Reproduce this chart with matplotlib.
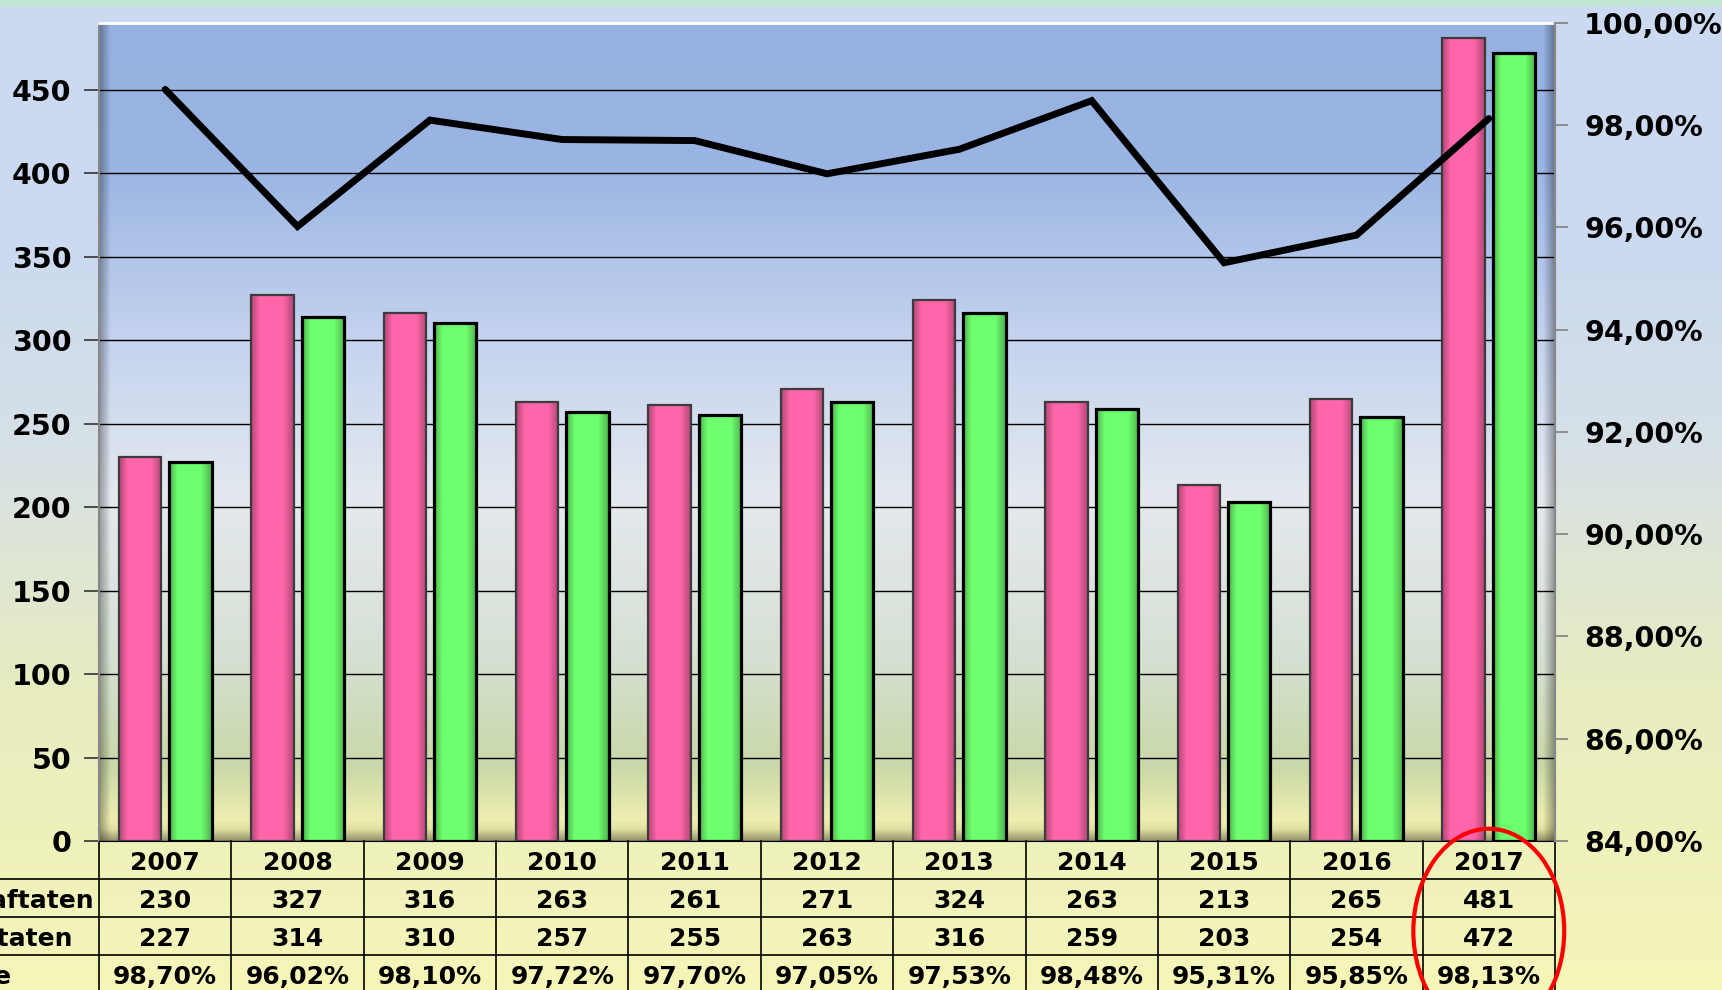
import numpy as np
import matplotlib
matplotlib.use('Agg')
import matplotlib.pyplot as plt
from matplotlib.colors import LinearSegmentedColormap, to_rgb
from matplotlib.patches import Ellipse
from matplotlib.transforms import blended_transform_factory
from matplotlib.ticker import FuncFormatter

# Daten
jahre = ['2007', '2008', '2009', '2010', '2011', '2012', '2013', '2014', '2015', '2016', '2017']
erfasst = [230, 327, 316, 263, 261, 271, 324, 263, 213, 265, 481]
geklaert = [227, 314, 310, 257, 255, 263, 316, 259, 203, 254, 472]
quote = [98.70, 96.02, 98.10, 97.72, 97.70, 97.05, 97.53, 98.48, 95.31, 95.85, 98.13]
zeilen = ['Erfasste Straftaten', 'Aufgeklärte Straftaten', 'Aufklärungsquote']

plt.rcParams['font.family'] = 'DejaVu Sans'
plt.rcParams['font.weight'] = 'bold'

def pct(v):
    return f'{v:.2f}%'.replace('.', ',')

fig = plt.figure(figsize=(17.22, 9.90), dpi=100)

# Hintergrund der ganzen Grafik
bg = fig.add_axes([0, 0, 1, 1], zorder=-5)
bg_cmap = LinearSegmentedColormap.from_list('bg', [(0, '#f6f6b8'), (0.3, '#e8ecc0'),
                                                  (0.55, '#d6e0e6'), (0.75, '#ccdaf0'), (1, '#cbdaf1')])
bg.imshow(np.linspace(0, 1, 256).reshape(-1, 1), cmap=bg_cmap, aspect='auto',
          extent=[0, 1, 0, 1], origin='lower')
bg.axhspan(0.995, 1, color='#c0e6d4')
bg.set_xlim(0, 1)
bg.set_ylim(0, 1)
bg.axis('off')

ax = fig.add_axes([0.0575, 0.1505, 0.8455, 0.8263])
x = np.arange(len(jahre))
ymax = 490

# Plotflaeche mit Verlauf
pa_cmap = LinearSegmentedColormap.from_list('pa', [(0, '#d2d296'), (0.025, '#eeeeb0'), (0.09, '#c9d8a8'),
                                                  (0.22, '#d6e0d2'), (0.42, '#e4e9ef'), (0.62, '#c3d2ee'),
                                                  (0.83, '#9ab5e3'), (1, '#96b1e1')])
ax.imshow(np.linspace(0, 1, 256).reshape(-1, 1), cmap=pa_cmap, aspect='auto',
          extent=[-0.5, 10.5, 0, ymax], origin='lower', zorder=0)
# innere Schatten links/rechts/unten
sh = np.zeros((1, 32, 4))
sh[..., 3] = np.linspace(0.35, 0, 32)
ax.imshow(sh, extent=[-0.5, -0.41, 0, ymax], aspect='auto', zorder=0.2)
ax.imshow(sh[:, ::-1, :], extent=[10.41, 10.5, 0, ymax], aspect='auto', zorder=0.2)
shv = np.zeros((32, 1, 4))
shv[..., 3] = np.linspace(0, 0.3, 32)[:, None]
ax.imshow(shv, extent=[-0.5, 10.5, 0, 7], aspect='auto', zorder=0.2)

ax.set_axisbelow(True)
ax.yaxis.grid(True, color='black', lw=1.0)

# Balken
b1 = ax.bar(x - 0.19, erfasst, 0.32, facecolor='none', edgecolor='#3c3c3c', lw=1.6, zorder=3)
b2 = ax.bar(x + 0.19, geklaert, 0.32, facecolor='none', edgecolor='black', lw=2.3, zorder=3)
prof = np.interp(np.linspace(0, 1, 64), [0, 0.2, 0.75, 1], [0.7, 1, 1, 0.7])

def shade(bars, col):
    c = np.array(to_rgb(col))
    img = np.clip(prof[:, None] * c[None, :], 0, 1)[None, :, :]
    for b in bars:
        x0, y0 = b.get_x(), b.get_y()
        im = ax.imshow(img, extent=[x0, x0 + b.get_width(), y0, y0 + b.get_height()],
                       aspect='auto', zorder=2.5)
        im.set_clip_path(b)

shade(b1, '#ff66aa')
shade(b2, '#6eff6e')

ax.set_xlim(-0.5, 10.5)
ax.set_ylim(0, ymax)
ax.set_xticks([])
ax.set_yticks(np.arange(0, 451, 50))
ax.tick_params(axis='y', length=11, width=1.2, color='#333333', pad=9, labelsize=20.5)
ax.spines['top'].set_color('white')
ax.spines['top'].set_linewidth(2)
ax.spines['left'].set_color('#888888')
ax.spines['left'].set_linewidth(1.5)
ax.spines['right'].set_color('#888888')
ax.spines['bottom'].set_color('black')

# Quote als Linie
ax2 = ax.twinx()
ax2.plot(x, quote, color='black', lw=5, solid_capstyle='round', solid_joinstyle='miter', zorder=4)
ax2.set_ylim(84, 100)
ax2.set_yticks(np.arange(84, 101, 2))
ax2.yaxis.set_major_formatter(FuncFormatter(lambda v, p: pct(v)))
ax2.tick_params(axis='y', length=9, width=1.2, color='#808080', pad=12, labelsize=20.5)
for s in ['left', 'top', 'bottom']:
    ax2.spines[s].set_visible(False)
ax2.spines['right'].set_color('#888888')
ax2.spines['right'].set_linewidth(1.5)

# Datentabelle
tr = blended_transform_factory(ax.transData, ax.transAxes)
rh = 38 / 818
werte = [jahre, [str(v) for v in erfasst], [str(v) for v in geklaert], [pct(v) for v in quote]]
for r, row in enumerate(werte):
    yc = -(r + 0.5) * rh
    for i, t in enumerate(row):
        ax.text(i, yc, t, transform=tr, ha='center', va='center_baseline', fontsize=18,
                fontweight='bold', clip_on=False)
for r in range(1, 4):
    ax.plot([-0.5 - 99 / 132.4, 10.5], [-r * rh] * 2, transform=tr, color='black', lw=1.2, clip_on=False)
for i in range(len(jahre) + 1):
    ax.plot([i - 0.5] * 2, [0, -4.5 * rh], transform=tr, color='black', lw=1.2, clip_on=False)
for r, (lab, xe) in enumerate(zip(zeilen, [-0.0035, -0.0185, -0.0598])):
    ax.text(xe, -(r + 1.5) * rh, lab, transform=ax.transAxes, ha='right', va='center_baseline',
            fontsize=18, fontweight='bold', clip_on=False)

# roter Kreis um 2017
ell = Ellipse((10, -0.11), 1.14, 0.25, transform=tr, fill=False, edgecolor='red', lw=3,
              clip_on=False, zorder=6)
ax2.add_patch(ell)
ax2.set_ylim(84, 100)

fig.savefig('out.png', dpi=100)
